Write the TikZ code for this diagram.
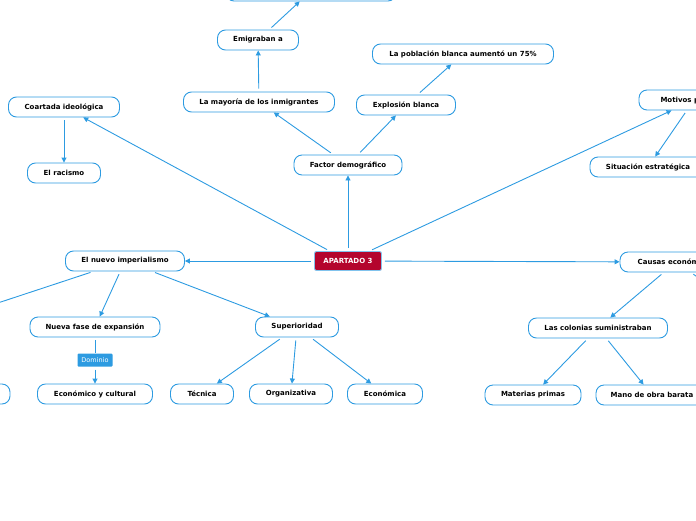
\documentclass[tikz,border=0pt]{standalone}
\usepackage{fontspec}
\setmainfont{DejaVu Sans}
\usetikzlibrary{arrows.meta}
\definecolor{mapblue}{RGB}{45,155,225}
\definecolor{rootred}{RGB}{180,5,45}

\begin{document}
\begin{tikzpicture}[x=1pt, y=-1pt,
  topic/.style={draw=mapblue, fill=white, line width=0.9pt, rounded corners=8pt,
    minimum height=20pt, inner sep=0pt, font=\fontsize{7}{8}\selectfont\bfseries},
  root/.style={topic, draw=mapblue!60, fill=rootred, text=white, rounded corners=2pt, minimum height=19pt},
  tag/.style={fill=mapblue, text=white, rounded corners=1pt, minimum width=35pt, minimum height=13pt,
    inner sep=0pt, font=\fontsize{6.5}{7}\selectfont},
  link/.style={draw=mapblue, line width=0.9pt, shorten <=3pt, -{Triangle[length=5pt, width=5pt]}}]
  \useasboundingbox (0,0) rectangle (696,520);
  \clip (0,0) rectangle (696,520);

  % Central topic
  \node[root, minimum width=67pt] (apartado) at (348,261) {APARTADO 3};

  % Upper branch
  \node[topic, minimum width=108pt] (factor) at (348,165) {Factor demográfico};
  \node[topic, minimum width=151pt] (mayoria) at (259,102) {La mayoría de los inmigrantes};
  \node[topic, minimum width=81pt] (emigraban) at (258,40) {Emigraban a};
  \node[topic, minimum width=170pt] (destino) at (311,-9) {};
  \node[topic, minimum width=99pt] (explosion) at (406,105) {Explosión blanca};
  \node[topic, minimum width=181pt] (poblacion) at (463,54) {La población blanca aumentó un 75\%};
  \node[topic, minimum width=111pt] (coartada) at (64,107) {Coartada ideológica};
  \node[topic, minimum width=73pt] (racismo) at (64,173) {El racismo};
  \node[topic, minimum width=110pt] (motivos) at (694,100) {Motivos políticos};
  \node[topic, minimum width=116pt] (situacion) at (648,167) {Situación estratégica};

  % Left branch
  \node[topic, minimum width=119pt] (imperialismo) at (125,261) {El nuevo imperialismo};
  \coordinate (oculto) at (-75,327);
  \node[topic, minimum width=100pt] (izquierda) at (-40,394) {};
  \node[topic, minimum width=130pt] (nuevafase) at (95,327) {Nueva fase de expansión};
  \node[topic, minimum width=115pt] (economico) at (95,394) {Económico y cultural};
  \node[tag] (dominio) at (95,360) {Dominio};
  \node[topic, minimum width=83pt] (superioridad) at (297,327) {Superioridad};
  \node[topic, minimum width=63pt] (tecnica) at (202,394) {Técnica};
  \node[topic, minimum width=83pt] (organizativa) at (291,394) {Organizativa};
  \node[topic, minimum width=75pt] (economica) at (385,394) {Económica};

  % Right branch
  \node[topic, minimum width=112pt] (causas) at (676,262) {Causas económicas};
  \coordinate (derecha) at (730,300);
  \node[topic, minimum width=139pt] (colonias) at (598,328) {Las colonias suministraban};
  \node[topic, minimum width=96pt] (materias) at (533,395) {Materias primas};
  \node[topic, minimum width=112pt] (manodeobra) at (652,395) {Mano de obra barata};

  % Connectors
  \draw[link] (apartado) -- (factor);
  \draw[link] (apartado) -- (coartada);
  \draw[link] (apartado) -- (motivos);
  \draw[link] (apartado) -- (imperialismo);
  \draw[link] (apartado) -- (causas);
  \draw[link] (factor) -- (mayoria);
  \draw[link] (factor) -- (explosion);
  \draw[link] (mayoria) -- (emigraban);
  \draw[link] (emigraban) -- (destino);
  \draw[link] (explosion) -- (poblacion);
  \draw[link] (coartada) -- (racismo);
  \draw[link] (motivos) -- (situacion);
  \draw[link] (imperialismo) -- (oculto);
  \draw[link] (imperialismo) -- (nuevafase);
  \draw[link] (imperialismo) -- (superioridad);
  \draw[draw=mapblue, line width=0.9pt, shorten <=3pt] (nuevafase) -- (dominio);
  \draw[link] (dominio) -- (economico);
  \draw[link] (superioridad) -- (tecnica);
  \draw[link] (superioridad) -- (organizativa);
  \draw[link] (superioridad) -- (economica);
  \draw[link] (causas) -- (colonias);
  \draw[link] (causas) -- (derecha);
  \draw[link] (colonias) -- (materias);
  \draw[link] (colonias) -- (manodeobra);
\end{tikzpicture}
\end{document}
